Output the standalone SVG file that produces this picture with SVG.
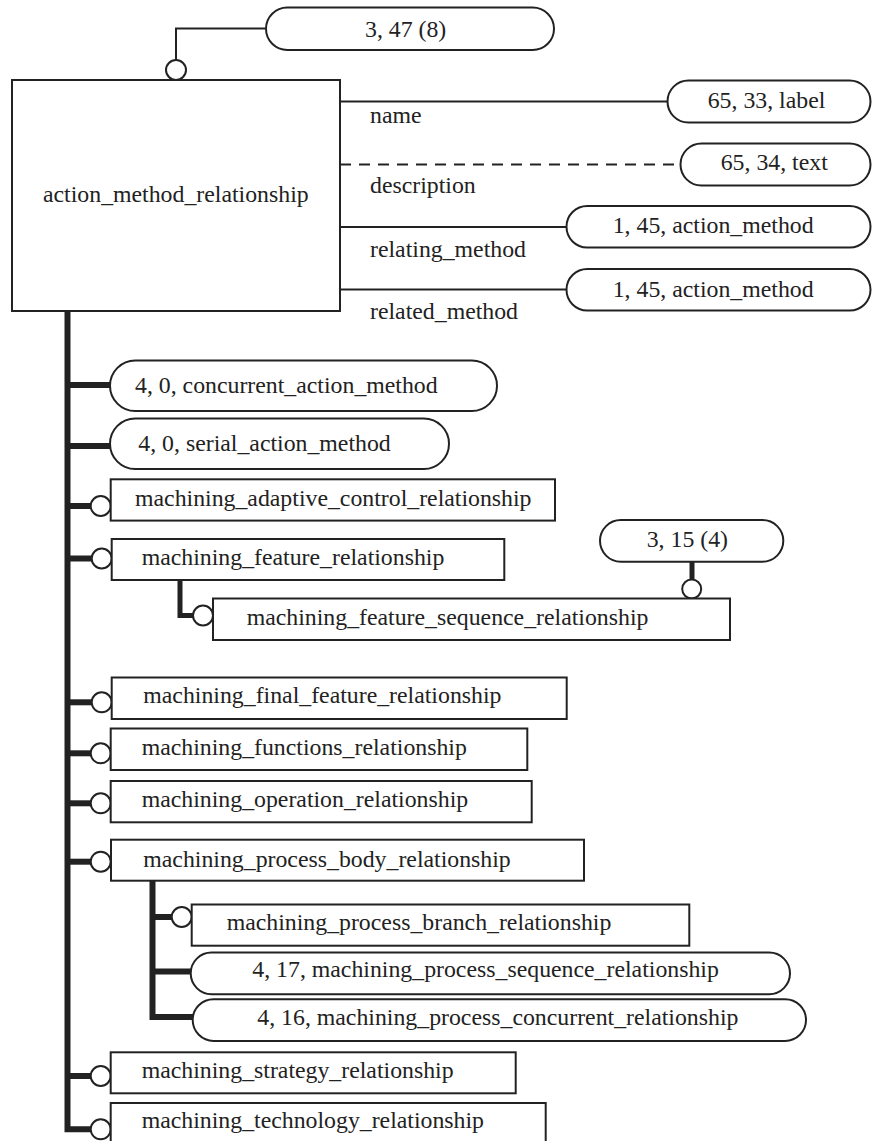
<svg xmlns="http://www.w3.org/2000/svg" width="872" height="1141" viewBox="0 0 872 1141">
<style>
.box{fill:#fff;stroke:#222;stroke-width:2}
.t{font-family:"Liberation Serif","Times New Roman",serif;font-size:23.8px;fill:#222}
.ln{fill:none;stroke:#222;stroke-width:2}
.dash{fill:none;stroke:#222;stroke-width:2;stroke-dasharray:11 8}
.thick{fill:none;stroke:#222;stroke-width:6;stroke-linejoin:miter;stroke-linecap:butt}
.mid{fill:none;stroke:#222;stroke-width:5;stroke-linejoin:miter}
.c{fill:#fff;stroke:#222;stroke-width:2}
</style>
<rect width="872" height="1141" fill="#fff"/>
<g id="connectors">
  <path class="ln" d="M176,60 V28.5 H266"/>
  <circle class="c" cx="176" cy="70" r="10"/>
  <line class="ln" x1="340" y1="101.5" x2="667.5" y2="101.5"/>
  <line class="dash" x1="340" y1="164.5" x2="680.5" y2="164.5"/>
  <line class="ln" x1="340" y1="227" x2="566.5" y2="227"/>
  <line class="ln" x1="340" y1="289.5" x2="566.5" y2="289.5"/>
  <path class="thick" d="M67.5,311 V1129.3 H91"/>
  <path class="thick" d="M67.5,385 H111"/>
  <path class="thick" d="M67.5,446 H111"/>
  <path class="thick" d="M67.5,506 H91"/>
  <path class="thick" d="M67.5,558.5 H92"/>
  <path class="thick" d="M67.5,702.3 H92"/>
  <path class="thick" d="M67.5,753.3 H91"/>
  <path class="thick" d="M67.5,803.3 H91"/>
  <path class="thick" d="M67.5,861.7 H91"/>
  <path class="thick" d="M67.5,1076 H91"/>
  <circle class="c" cx="100.7" cy="506" r="10"/>
  <circle class="c" cx="101.7" cy="558.5" r="10"/>
  <circle class="c" cx="101.7" cy="702.3" r="10"/>
  <circle class="c" cx="100.7" cy="753.3" r="10"/>
  <circle class="c" cx="100.7" cy="803.3" r="10"/>
  <circle class="c" cx="100.7" cy="861.7" r="10"/>
  <circle class="c" cx="100.7" cy="1076" r="10"/>
  <circle class="c" cx="100.7" cy="1129.3" r="10"/>
  <path class="mid" d="M180,581 V615.5 H194"/>
  <circle class="c" cx="203" cy="615.5" r="10"/>
  <path class="thick" d="M152.5,881 V1017 H193.5"/>
  <path class="thick" d="M152.5,917 H172"/>
  <path class="thick" d="M152.5,971.5 H191.5"/>
  <circle class="c" cx="181.7" cy="917" r="10"/>
  <line class="mid" x1="692" y1="561.7" x2="692" y2="580"/>
  <circle class="c" cx="691.7" cy="589" r="9.5"/>
</g>
<g id="n-main">
  <rect class="box" x="12" y="80" width="328" height="231"/>
  <text class="t" x="43" y="202">action_method_relationship</text>
</g>
<g id="n-top">
  <rect class="box" x="266" y="7.5" width="288" height="42.5" rx="21.25"/>
  <text class="t" x="365" y="36.7">3, 47 (8)</text>
</g>
<g id="attr-labels">
  <text class="t" x="370" y="123">name</text>
  <text class="t" x="370" y="193.3">description</text>
  <text class="t" x="370" y="256.7">relating_method</text>
  <text class="t" x="370" y="319.3">related_method</text>
</g>
<g id="n-label">
  <rect class="box" x="667.5" y="80.5" width="203" height="42" rx="21"/>
  <text class="t" x="707.7" y="107.7">65, 33, label</text>
</g>
<g id="n-text">
  <rect class="box" x="680.5" y="143.5" width="190" height="42" rx="21"/>
  <text class="t" x="720.7" y="170">65, 34, text</text>
</g>
<g id="n-am1">
  <rect class="box" x="566.5" y="206" width="304" height="41.5" rx="20.75"/>
  <text class="t" x="612.7" y="233.3">1, 45, action_method</text>
</g>
<g id="n-am2">
  <rect class="box" x="566.5" y="269" width="304" height="41.5" rx="20.75"/>
  <text class="t" x="612.7" y="296.7">1, 45, action_method</text>
</g>
<g id="n-concurrent-am">
  <rect class="box" x="110" y="360.5" width="387" height="50.5" rx="25.25"/>
  <text class="t" x="135" y="392.7">4, 0, concurrent_action_method</text>
</g>
<g id="n-serial-am">
  <rect class="box" x="110" y="418.5" width="339" height="50.5" rx="25.25"/>
  <text class="t" x="138.3" y="450.7">4, 0, serial_action_method</text>
</g>
<g id="n-adaptive">
  <rect class="box" x="110.7" y="479.3" width="444.3" height="41.3"/>
  <text class="t" x="135" y="505.7">machining_adaptive_control_relationship</text>
</g>
<g id="n-feature">
  <rect class="box" x="111.7" y="539" width="392.6" height="41"/>
  <text class="t" x="141.7" y="565">machining_feature_relationship</text>
</g>
<g id="n-315">
  <rect class="box" x="600" y="520" width="183.3" height="41.7" rx="20.85"/>
  <text class="t" x="646.7" y="546.7">3, 15 (4)</text>
</g>
<g id="n-feature-seq">
  <rect class="box" x="213" y="598.5" width="517" height="41.5"/>
  <text class="t" x="246.7" y="625">machining_feature_sequence_relationship</text>
</g>
<g id="n-final">
  <rect class="box" x="111.7" y="677.5" width="455" height="41.5"/>
  <text class="t" x="143.3" y="703.3">machining_final_feature_relationship</text>
</g>
<g id="n-functions">
  <rect class="box" x="110.7" y="728.5" width="416.6" height="41.5"/>
  <text class="t" x="141.7" y="755">machining_functions_relationship</text>
</g>
<g id="n-operation">
  <rect class="box" x="110.7" y="781" width="421" height="41.3"/>
  <text class="t" x="141.7" y="806.7">machining_operation_relationship</text>
</g>
<g id="n-body">
  <rect class="box" x="111" y="839.7" width="473" height="41"/>
  <text class="t" x="143.3" y="866.7">machining_process_body_relationship</text>
</g>
<g id="n-branch">
  <rect class="box" x="191.7" y="904.5" width="497.6" height="41.2"/>
  <text class="t" x="226.7" y="930">machining_process_branch_relationship</text>
</g>
<g id="n-sequence">
  <rect class="box" x="190.7" y="952.5" width="599.3" height="41.7" rx="20.85"/>
  <text class="t" x="252.3" y="977.3">4, 17, machining_process_sequence_relationship</text>
</g>
<g id="n-concurrent-rel">
  <rect class="box" x="192.7" y="999.2" width="613.3" height="41.7" rx="20.85"/>
  <text class="t" x="257.3" y="1025">4, 16, machining_process_concurrent_relationship</text>
</g>
<g id="n-strategy">
  <rect class="box" x="110.7" y="1052.3" width="405" height="41"/>
  <text class="t" x="141.7" y="1078.3">machining_strategy_relationship</text>
</g>
<g id="n-technology">
  <rect class="box" x="110.7" y="1103" width="435" height="60"/>
  <text class="t" x="141.7" y="1128.3">machining_technology_relationship</text>
</g>
</svg>
